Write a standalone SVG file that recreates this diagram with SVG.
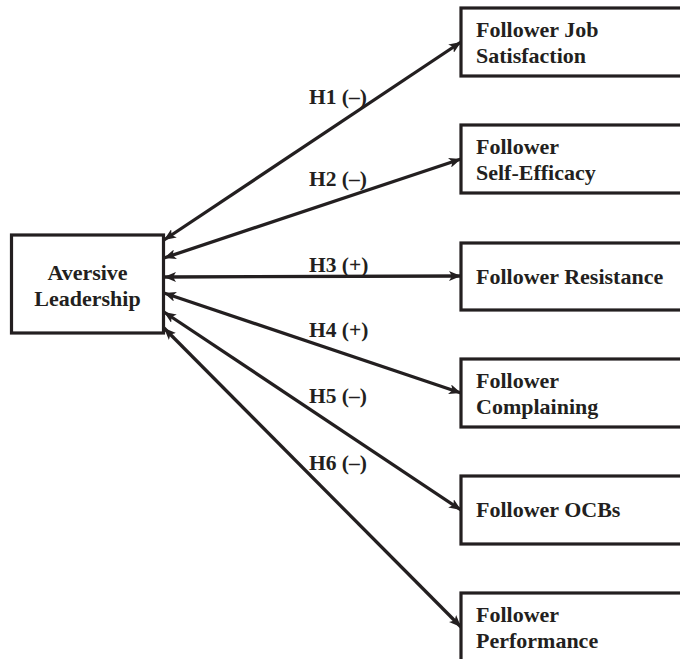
<svg xmlns="http://www.w3.org/2000/svg" width="680" height="659" viewBox="0 0 680 659">
<style>
.box{fill:#fff;stroke:#231f20;stroke-width:3.2}
.t{font-family:"Liberation Serif","Times New Roman",serif;font-weight:bold;font-size:22px;fill:#231f20}
.lbl{font-family:"Liberation Serif","Times New Roman",serif;font-weight:bold;font-size:21.5px;fill:#231f20}
.c{stroke:#231f20;stroke-width:3.3;fill:none;marker-start:url(#ah);marker-end:url(#ah)}
</style>
<defs>
<marker id="ah" markerUnits="userSpaceOnUse" viewBox="0 0 12 10" refX="12" refY="5" markerWidth="12" markerHeight="10" orient="auto-start-reverse">
<path d="M0,0 L12,5 L0,10 L3,5 Z" fill="#231f20"/>
</marker>
</defs>
<rect width="680" height="659" fill="#fff"/>
<g id="connectors">
<line class="c" x1="164" y1="240" x2="461" y2="42"/>
<line class="c" x1="164" y1="258" x2="461" y2="159"/>
<line class="c" x1="164" y1="277" x2="461" y2="276"/>
<line class="c" x1="164" y1="293" x2="461" y2="393"/>
<line class="c" x1="164" y1="312" x2="461" y2="510"/>
<line class="c" x1="164" y1="328" x2="461" y2="627"/>
<text class="lbl" x="309" y="104">H1 (–)</text>
<text class="lbl" x="309" y="186">H2 (–)</text>
<text class="lbl" x="309" y="272">H3 (+)</text>
<text class="lbl" x="309" y="337">H4 (+)</text>
<text class="lbl" x="309" y="403">H5 (–)</text>
<text class="lbl" x="309" y="470">H6 (–)</text>
</g>
<g id="aversive">
<rect class="box" x="11.5" y="235" width="152" height="98"/>
<text class="t" x="87.5" y="280" text-anchor="middle">Aversive</text>
<text class="t" x="87.5" y="306" text-anchor="middle">Leadership</text>
</g>
<g id="satisfaction">
<rect class="box" x="461" y="8" width="240" height="68"/>
<text class="t" x="476" y="37">Follower Job</text>
<text class="t" x="476" y="63">Satisfaction</text>
</g>
<g id="selfefficacy">
<rect class="box" x="461" y="125" width="240" height="68"/>
<text class="t" x="476" y="154">Follower</text>
<text class="t" x="476" y="180">Self-Efficacy</text>
</g>
<g id="resistance">
<rect class="box" x="461" y="243" width="240" height="67"/>
<text class="t" x="476" y="284">Follower Resistance</text>
</g>
<g id="complaining">
<rect class="box" x="461" y="359" width="240" height="68"/>
<text class="t" x="476" y="388">Follower</text>
<text class="t" x="476" y="414">Complaining</text>
</g>
<g id="ocbs">
<rect class="box" x="461" y="476" width="240" height="68"/>
<text class="t" x="476" y="517">Follower OCBs</text>
</g>
<g id="performance">
<rect class="box" x="461" y="593" width="240" height="80"/>
<text class="t" x="476" y="622">Follower</text>
<text class="t" x="476" y="648">Performance</text>
</g>
</svg>
